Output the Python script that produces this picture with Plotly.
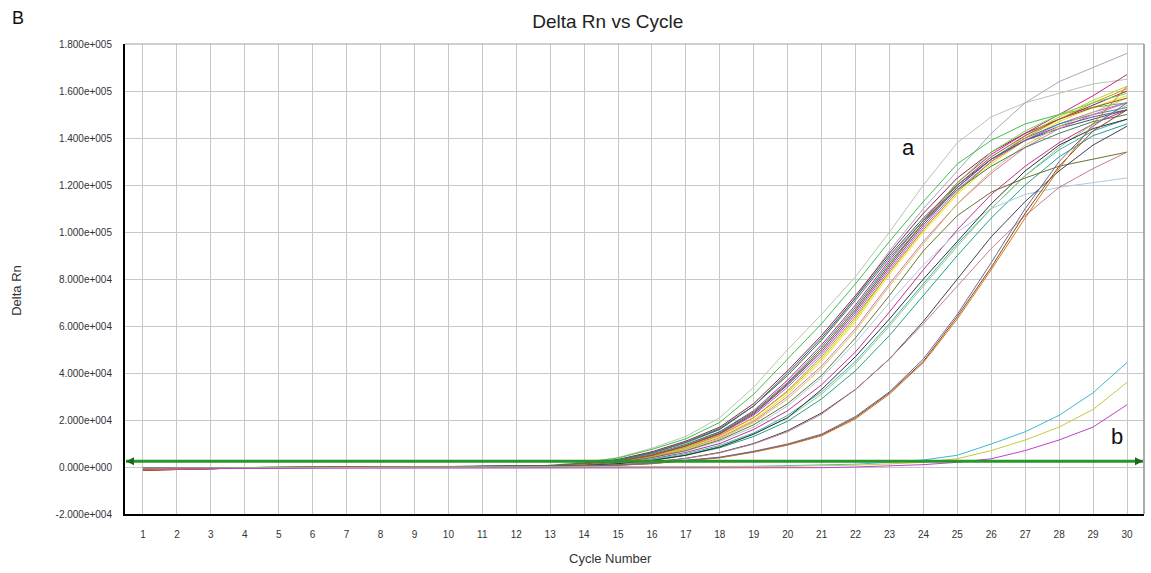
import plotly.graph_objects as go

cycles = list(range(1, 31))
x_tick_labels = [str(c) for c in cycles]
y_tick_vals = [-20000, 0, 20000, 40000, 60000, 80000, 100000, 120000, 140000, 160000, 180000]
y_tick_text = ["-2.000e+004", "0.000e+000", "2.000e+004", "4.000e+004", "6.000e+004",
               "8.000e+004", "1.000e+005", "1.200e+005", "1.400e+005", "1.600e+005", "1.800e+005"]
threshold = 2500

# Delta Rn values (in thousands) per cycle 1..30
gray_green = [-0.4,-0.3,-0.2,-0.2,-0.1,-0.1,0.0,0.0,0.0,0.1,0.1,0.2, 0.8,2,4,8,13,21,34,50,65,81,100,120,138,149,155,159,163,165]
gray_blue = [-0.8,-0.6,-0.4,-0.3,-0.2,-0.1,-0.1,0.0,0.0,0.0,0.1,0.2, 0.6,1.5,3,6,10,16,26,39,54,72,92,110,126,142,155,164,170,176]
green = [-0.4,-0.3,-0.2,-0.2,-0.1,-0.1,0.0,0.0,0.0,0.1,0.1,0.2, 0.7,1.8,3.8,7.5,12,19,31,46,61,78,96,113,129,139,146,150,153,155]
dark_magenta = [-1.2,-0.9,-0.5,-0.3,-0.2,-0.2,-0.1,-0.1,0.0,0.0,0.1,0.1, 0.5,1.5,3.2,6.5,11,17,27,41,56,73,91,108,123,134,142,148,154,160]
dark_slate = [-0.4,-0.3,-0.2,-0.2,-0.1,-0.1,0.0,0.0,0.0,0.1,0.1,0.1, 0.5,1.4,3,6,10.5,16,26,40,55,72,90,106,120,131,139,144,148,152]
magenta = [-0.8,-0.6,-0.4,-0.3,-0.2,-0.1,-0.1,0.0,0.0,0.0,0.1,0.2, 0.4,1.3,2.8,5.5,9.5,15,24,37,52,69,88,105,121,133,142,150,158,167]
yellow = [-1.4,-1.0,-0.6,-0.4,-0.3,-0.2,-0.1,0.0,0.0,0.1,0.1,0.2, 0.3,1,2.2,4.5,8,13,20,31,45,62,82,100,116,129,139,147,153,158]
yellow_green = [-0.4,-0.3,-0.2,-0.2,-0.1,-0.1,0.0,0.0,0.0,0.1,0.1,0.1, 0.3,1,2.2,4.5,8.2,13.5,21,32,46,63,83,101,117,130,141,149,156,162]
violet = [-0.8,-0.6,-0.4,-0.3,-0.2,-0.1,-0.1,0.0,0.0,0.0,0.1,0.2, 0.4,1.2,2.5,5,9,14,22,34,48,65,84,102,118,130,139,146,151,155]
teal = [-0.4,-0.3,-0.2,-0.2,-0.1,-0.1,0.0,0.0,0.0,0.1,0.1,0.1, 0.4,1.3,2.7,5.3,9.5,15,23.5,36,51,68,87,104,119,131,140,146,150,153]
orange = [-1.4,-1.0,-0.6,-0.4,-0.3,-0.2,-0.1,0.0,0.0,0.1,0.1,0.2, 0.3,1.1,2.3,4.7,8.5,13.5,21,32.5,47,64,83,101,117,130,140,148,155,161]
lime = [-0.4,-0.3,-0.2,-0.2,-0.1,-0.1,0.0,0.0,0.0,0.1,0.1,0.1, 0.4,1.2,2.6,5.2,9.2,14.5,23,35,50,67,86,104,121,134,143,150,155,159]
pink = [-0.8,-0.6,-0.4,-0.3,-0.2,-0.1,-0.1,0.0,0.0,0.0,0.1,0.2, 0.3,1,2.1,4.2,7.6,12.5,19.5,30,43,59,78,96,112,125,136,144,150,155]
purple = [-1.2,-0.9,-0.5,-0.3,-0.2,-0.2,-0.1,-0.1,0.0,0.0,0.1,0.1, 0.4,1.2,2.5,5,9,14.2,22.5,35,49,66,85,103,119,131,139,145,149,152]
khaki = [-0.4,-0.3,-0.2,-0.2,-0.1,-0.1,0.0,0.0,0.0,0.1,0.1,0.1, 0.3,1,2,4,7.5,12,19,29,42,58,77,95,112,126,137,145,151,157]
dark_green = [-0.8,-0.6,-0.4,-0.3,-0.2,-0.1,-0.1,0.0,0.0,0.0,0.1,0.2, 0.5,1.4,3,6,10.5,16.5,26,39,54,71,89,105,118,128,136,142,147,150]
brown_red = [-1.4,-1.0,-0.6,-0.4,-0.3,-0.2,-0.1,0.0,0.0,0.1,0.1,0.2, 0.4,1.2,2.6,5,9,14.5,23,35.5,50,67,86,104,120,132,141,148,153,157]
magenta_late = [-0.4,-0.3,-0.2,-0.2,-0.1,-0.1,0.0,0.0,0.0,0.1,0.1,0.1, 0.2,0.8,1.8,3.5,6.2,10,16,24,35,49,66,84,101,116,128,138,146,152]
cyan_late = [-0.8,-0.6,-0.4,-0.3,-0.2,-0.1,-0.1,0.0,0.0,0.0,0.1,0.2, 0.2,0.7,1.6,3.2,5.6,9.2,14.5,22,32,45,61,78,95,110,124,135,143,148]
light_green_late = [-0.4,-0.3,-0.2,-0.2,-0.1,-0.1,0.0,0.0,0.0,0.1,0.1,0.1, 0.2,0.7,1.5,3,5.3,8.7,14,21,31,44,60,77,94,110,124,136,146,154]
teal_late = [-1.2,-0.9,-0.5,-0.3,-0.2,-0.2,-0.1,-0.1,0.0,0.0,0.1,0.1, 0.2,0.6,1.4,2.8,5,8.2,13,19.5,29,41,56,73,90,106,120,132,141,146]
light_blue = [-0.4,-0.3,-0.2,-0.2,-0.1,-0.1,0.0,0.0,0.0,0.1,0.1,0.1, 0.3,0.9,1.9,3.8,6.8,11,17,26,38,53,70,86,100,110,116,119,121,123]
olive = [-0.8,-0.6,-0.4,-0.3,-0.2,-0.1,-0.1,0.0,0.0,0.0,0.1,0.2, 0.3,0.9,2,4,7,11.5,18,27,39,55,73,92,107,117,123,128,131,134]
black = [-0.4,-0.3,-0.2,-0.2,-0.1,-0.1,0.0,0.0,0.0,0.1,0.1,0.1, 0.2,0.6,1.4,2.8,5,8.5,14,21,33,47,63,80,96,112,126,137,144,148]
black_late = [-0.8,-0.6,-0.4,-0.3,-0.2,-0.1,-0.1,0.0,0.0,0.0,0.1,0.2, 0.1,0.4,1,2,3.7,6.2,10,15.5,23,33,46,62,80,98,113,126,137,145]
mauve = [-0.4,-0.3,-0.2,-0.2,-0.1,-0.1,0.0,0.0,0.0,0.1,0.1,0.1, 0.1,0.4,1,2,3.6,6,9.8,15,22.5,33,46,61,77,93,107,119,127,134]
brown_latest = [-1.4,-1.0,-0.6,-0.4,-0.3,-0.2,-0.1,0.0,0.0,0.1,0.1,0.2, 0.0,0.3,0.8,1.5,2.6,4,6.5,9.5,13.6,21,31.6,45,64,85,108,128,143,152]
orange_latest = [-1.2,-0.9,-0.5,-0.3,-0.2,-0.2,-0.1,-0.1,0.0,0.0,0.1,0.1, 0.0,0.3,0.7,1.4,2.5,3.9,6.3,9.3,13.3,20.5,31,44.5,63,84,106,127,146,162]
slate_latest = [-0.4,-0.3,-0.2,-0.2,-0.1,-0.1,0.0,0.0,0.0,0.1,0.1,0.1, 0.0,0.3,0.8,1.5,2.7,4.2,6.7,9.8,14,21.5,32,46,65,87,110,130,145,155]
# group b (late amplification)
b_cyan = [-0.6,-0.5,-0.4,-0.3,-0.3,-0.2,-0.2,-0.2,-0.1,-0.1,-0.1,-0.1, 0.0,0.0,0.0,0.1,0.1,0.2,0.3,0.5,0.8,1.2,2,3,5,9.8,15,22,31.6,44.5]
b_yellow = [-0.6,-0.5,-0.4,-0.3,-0.3,-0.2,-0.2,-0.2,-0.1,-0.1,-0.1,-0.1, -0.1,0.0,0.0,0.0,0.1,0.1,0.2,0.3,0.5,0.8,1.3,2,3.5,7,11.5,17,24.5,36]
b_magenta = [-0.8,-0.7,-0.6,-0.5,-0.5,-0.5,-0.5,-0.5,-0.5,-0.6,-0.6,-0.6, -0.6,-0.6,-0.6,-0.6,-0.6,-0.6,-0.6,-0.5,-0.3,0.0,0.4,1,2,3.5,7,11.5,17,26.5]

series = [
    ("gray_green", "#b4c6b0", gray_green),
    ("gray_blue", "#a6a6bc", gray_blue),
    ("green", "#3cc050", green),
    ("dark_magenta", "#8b2252", dark_magenta),
    ("dark_slate", "#2f5f5f", dark_slate),
    ("magenta", "#d02090", magenta),
    ("yellow", "#e6e600", yellow),
    ("yellow_green", "#b0d820", yellow_green),
    ("violet", "#b060e0", violet),
    ("teal", "#1f8f8f", teal),
    ("orange", "#e08a20", orange),
    ("lime", "#66dd44", lime),
    ("pink", "#e070b0", pink),
    ("purple", "#7b3fa0", purple),
    ("khaki", "#c8c860", khaki),
    ("dark_green", "#408060", dark_green),
    ("brown_red", "#a0522d", brown_red),
    ("magenta_late", "#c03090", magenta_late),
    ("cyan_late", "#40b0c0", cyan_late),
    ("light_green_late", "#90d070", light_green_late),
    ("teal_late", "#20a090", teal_late),
    ("light_blue", "#a8cce0", light_blue),
    ("olive", "#707030", olive),
    ("black", "#303038", black),
    ("black_late", "#404058", black_late),
    ("mauve", "#c08090", mauve),
    ("brown_latest", "#8b4513", brown_latest),
    ("orange_latest", "#d2781e", orange_latest),
    ("slate_latest", "#6a6a9a", slate_latest),
    ("b_cyan", "#40b8d0", b_cyan),
    ("b_yellow", "#c8c840", b_yellow),
    ("b_magenta", "#c040d0", b_magenta),
]

fig = go.Figure()
for name, color, vals in series:
    fig.add_trace(go.Scatter(x=cycles, y=[v * 1000 for v in vals], mode="lines", name=name,
                             line=dict(color=color, width=1), hoverinfo="skip"))

# threshold line with arrow ends
fig.add_trace(go.Scatter(x=[0.5, 30.47], y=[threshold, threshold], mode="lines+markers",
                         line=dict(color="#28962a", width=3),
                         marker=dict(symbol=["arrow-left", "arrow-right"], size=8, color="#1a6a1a"),
                         hoverinfo="skip"))

font_family = "Liberation Sans, Arial, sans-serif"
fig.update_layout(
    width=1151, height=573,
    margin=dict(l=125, r=7, t=44, b=59),
    paper_bgcolor="white", plot_bgcolor="white",
    showlegend=False,
    font=dict(family=font_family, color="#333333", size=10),
    title=dict(text="Delta Rn vs Cycle", x=0.528, xanchor="center", y=0.963, yanchor="middle",
               font=dict(size=19, color="#222222", family=font_family)),
    xaxis=dict(range=[0.47, 30.5], tickmode="array", tickvals=cycles, ticktext=x_tick_labels,
               showgrid=True, gridcolor="#c8c8c8", gridwidth=1, zeroline=False,
               showline=True, linecolor="black", linewidth=2, ticks="", ticklabelstandoff=10,
               tickfont=dict(size=10, color="#333333")),
    yaxis=dict(range=[-20000, 180000], tickmode="array", tickvals=y_tick_vals, ticktext=y_tick_text,
               showgrid=True, gridcolor="#c8c8c8", gridwidth=1, zeroline=False,
               showline=True, linecolor="black", linewidth=2, ticks="", ticklabelstandoff=9,
               tickfont=dict(size=10, color="#333333")),
    shapes=[dict(type="line", xref="paper", yref="paper", x0=0, x1=1, y0=1, y1=1,
                 line=dict(color="#a0a0a0", width=1)),
            dict(type="line", xref="paper", yref="paper", x0=1, x1=1, y0=0, y1=1,
                 line=dict(color="#909090", width=1.5))],
    annotations=[
        dict(text="B", xref="paper", yref="paper", x=-0.113, y=1.055, showarrow=False,
             xanchor="left", yanchor="middle", font=dict(size=18, color="#111111")),
        dict(text="Delta Rn", xref="paper", yref="paper", x=-0.106, y=0.477, showarrow=False,
             textangle=-90, xanchor="center", yanchor="middle", font=dict(size=13, color="#333333")),
        dict(text="Cycle Number", xref="paper", yref="paper", x=0.476, y=-0.094, showarrow=False,
             xanchor="center", yanchor="middle", font=dict(size=13, color="#333333")),
        dict(text="a", x=23.55, y=136000, showarrow=False, xanchor="center", yanchor="middle",
             font=dict(size=22, color="#111111")),
        dict(text="b", x=29.7, y=12800, showarrow=False, xanchor="center", yanchor="middle",
             font=dict(size=22, color="#111111")),
    ],
)

fig.write_html("out.html")
